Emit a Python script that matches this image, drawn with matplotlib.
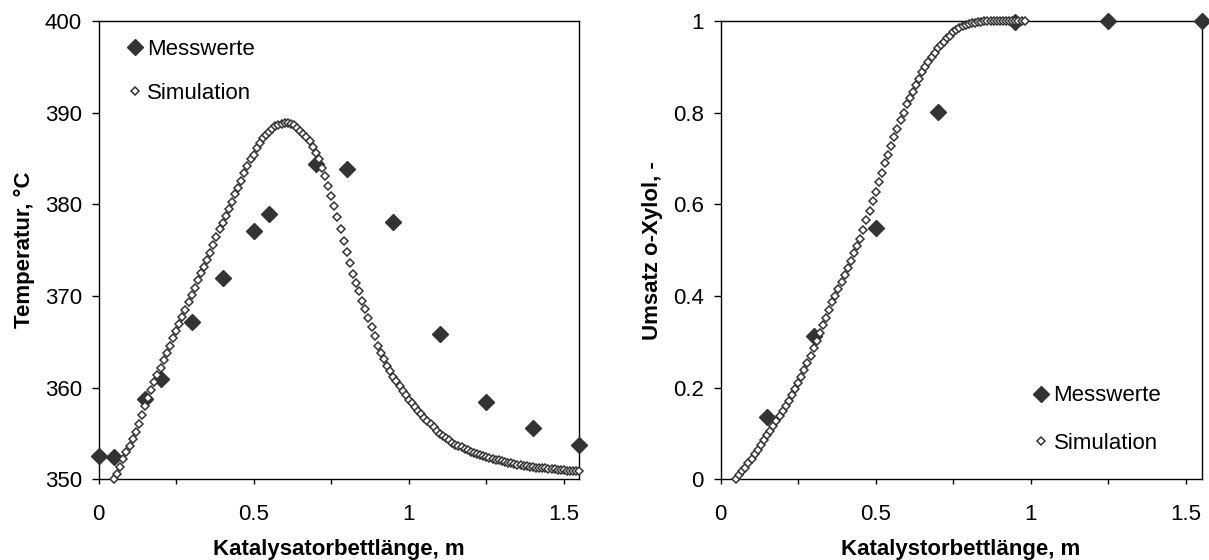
import matplotlib
matplotlib.use('Agg')
import matplotlib.pyplot as plt
import numpy as np
from matplotlib.ticker import MultipleLocator, FuncFormatter

plt.rcParams['font.family'] = ['Liberation Sans', 'DejaVu Sans']

# ---------------- data ----------------
# left: temperature profile
mess_x_T = [0.0, 0.05, 0.15, 0.2, 0.3, 0.4, 0.5, 0.55, 0.7, 0.8, 0.95, 1.1, 1.25, 1.4, 1.55]
mess_T = [352.6, 352.5, 358.8, 361.0, 367.2, 372.0, 377.1, 378.9, 384.4, 383.9, 378.1, 365.9, 358.4, 355.6, 353.8]

# simulation, x = 0.05 ... 1.55 m
sim_T = [350.0, 350.6, 351.4, 352.2, 353.0, 353.7, 354.4, 355.2, 356.1, 357.0,
         358.0, 358.9, 359.8, 360.6, 361.4, 362.2, 363.0, 363.8, 364.6, 365.4,
         366.2, 366.9, 367.7, 368.5, 369.3, 370.1, 370.9, 371.7, 372.5, 373.2,
         373.9, 374.7, 375.6, 376.4, 377.3, 378.0, 378.7, 379.5, 380.3, 381.1,
         381.8, 382.6, 383.4, 384.2, 384.9, 385.4, 386.1, 386.7, 387.2, 387.6,
         387.9, 388.2, 388.5, 388.7, 388.8, 388.9, 388.9, 388.8, 388.6, 388.3,
         388.0, 387.7, 387.3, 386.9, 386.3, 385.6, 384.9, 384.0, 383.1, 382.0,
         380.9, 379.8, 378.6, 377.3, 376.0, 374.8, 373.6, 372.4, 371.4, 370.5,
         369.5, 368.6, 367.6, 366.6, 365.6, 364.6, 363.8, 363.1, 362.4, 361.8,
         361.2, 360.7, 360.2, 359.7, 359.2, 358.7, 358.3, 357.9, 357.5, 357.1,
         356.7, 356.4, 356.0, 355.7, 355.3, 355.0, 354.75, 354.5, 354.25, 354.0,
         353.8, 353.65, 353.5, 353.35, 353.2, 353.0, 352.9, 352.75, 352.65, 352.55,
         352.45, 352.35, 352.25, 352.15, 352.1, 352.0, 351.9, 351.85, 351.75, 351.7,
         351.6, 351.55, 351.5, 351.45, 351.4, 351.35, 351.3, 351.25, 351.2, 351.2,
         351.15, 351.1, 351.1, 351.05, 351.0, 351.0, 350.95, 350.95, 350.9, 350.9,
         350.9]
sim_x_T = np.linspace(0.05, 1.55, len(sim_T))

# right: conversion o-xylene
mess_x_U = [0.15, 0.3, 0.5, 0.7, 0.95, 1.25, 1.55]
mess_U = [0.136, 0.312, 0.549, 0.801, 0.998, 1.0, 1.0]

# simulation, x = 0.05 ... 0.98 m
sim_U = [0.000, 0.010, 0.018, 0.026, 0.035, 0.045, 0.055, 0.065, 0.075, 0.086,
         0.096, 0.106, 0.117, 0.128, 0.139, 0.150, 0.161, 0.172, 0.184, 0.197,
         0.210, 0.224, 0.239, 0.254, 0.270, 0.286, 0.302, 0.319, 0.336, 0.352,
         0.369, 0.386, 0.400, 0.415, 0.430, 0.445, 0.461, 0.477, 0.493, 0.509,
         0.525, 0.545, 0.566, 0.586, 0.607, 0.628, 0.648, 0.669, 0.690, 0.708,
         0.728, 0.746, 0.765, 0.783, 0.800, 0.818, 0.833, 0.846, 0.860, 0.874,
         0.888, 0.899, 0.910, 0.921, 0.931, 0.940, 0.948, 0.955, 0.962, 0.968,
         0.975, 0.980, 0.984, 0.988, 0.991, 0.993, 0.995, 0.996, 0.997, 0.998,
         0.999, 0.9995, 1.0, 1.0, 1.0, 1.0, 1.0, 1.0, 1.0, 1.0,
         1.0, 1.0, 1.0, 1.0]
sim_x_U = np.linspace(0.05, 0.98, len(sim_U))

labels = ['Messwerte', 'Simulation']

# ---------------- figure ----------------
fig = plt.figure(figsize=(12.09, 5.6), dpi=100)
ax1 = fig.add_axes([0.0815, 0.1438, 0.3978, 0.8188])
ax2 = fig.add_axes([0.596, 0.1438, 0.3978, 0.8188])

dark = '#333333'
fmt = FuncFormatter(lambda v, p: '%g' % v)

def draw(ax, mx, my, sx, sy):
    hm, = ax.plot(mx, my, ls='none', marker='D', ms=8.0, color=dark,
                  clip_on=False, zorder=4, label=labels[0])
    hs, = ax.plot(sx, sy, ls='none', marker='D', ms=3.8, mfc='white',
                  mec=dark, mew=1.1, clip_on=False, zorder=5, label=labels[1])
    ax.set_xlim(0, 1.55)
    ax.xaxis.set_major_locator(MultipleLocator(0.5))
    ax.xaxis.set_minor_locator(MultipleLocator(0.25))
    ax.xaxis.set_major_formatter(fmt)
    ax.yaxis.set_major_formatter(fmt)
    ax.tick_params(axis='x', which='both', direction='out', length=3.8, width=1.0,
                   labelsize=16, pad=14)
    ax.tick_params(axis='y', which='both', direction='out', length=5, width=1.0,
                   labelsize=16, pad=7)
    for s in ax.spines.values():
        s.set_linewidth(1.0)
    return hm, hs

h1 = draw(ax1, mess_x_T, mess_T, sim_x_T, sim_T)
ax1.set_ylim(350, 400)
ax1.yaxis.set_major_locator(MultipleLocator(10))
ax1.set_xlabel('Katalysatorbettlänge, m', fontsize=16, fontweight='bold', labelpad=10)
ax1.set_ylabel('Temperatur, °C', fontsize=16, fontweight='bold', labelpad=7)
ax1.legend(handles=list(h1), loc='upper left', bbox_to_anchor=(0.0568, 0.961),
           frameon=False, fontsize=16, handlelength=0.8, handletextpad=0.15,
           labelspacing=1.05, borderpad=0, borderaxespad=0)

h2 = draw(ax2, mess_x_U, mess_U, sim_x_U, sim_U)
ax2.set_ylim(0, 1)
ax2.yaxis.set_major_locator(MultipleLocator(0.2))
ax2.set_xlabel('Katalystorbettlänge, m', fontsize=16, fontweight='bold', labelpad=10)
ax2.set_ylabel('Umsatz o-Xylol, -', fontsize=16, fontweight='bold', labelpad=7)
ax2.legend(handles=list(h2), loc='upper left', bbox_to_anchor=(0.6484, 0.205),
           frameon=False, fontsize=16, handlelength=0.8, handletextpad=0.15,
           labelspacing=1.2, borderpad=0, borderaxespad=0)

fig.savefig('out.png', dpi=100)
